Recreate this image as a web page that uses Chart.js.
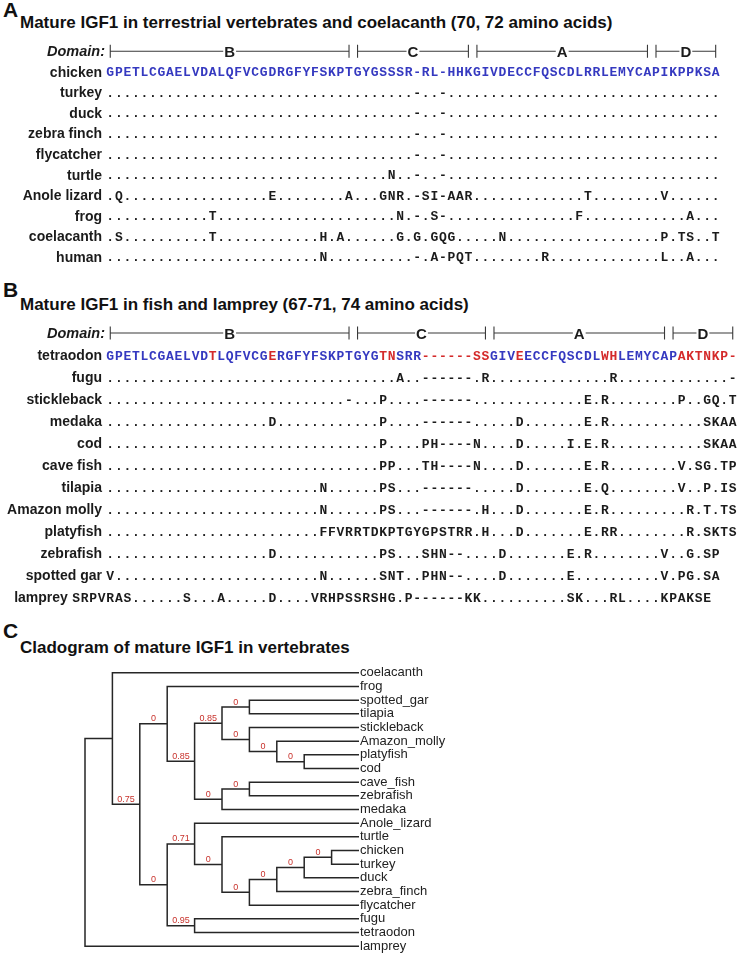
<!DOCTYPE html>
<html>
<head>
<meta charset="utf-8">
<title>Mature IGF1 alignments and cladogram</title>
<script src="https://cdn.jsdelivr.net/npm/chart.js@4.4.1/dist/chart.umd.min.js"></script>
<style>
  html, body { margin: 0; padding: 0; background: #fff; }
  #page { position: relative; width: 742px; height: 954px; overflow: hidden; color: #111;
          font-family: "Liberation Sans", Arial, sans-serif; }
  .tag { position: absolute; left: 3px; font-weight: bold; font-size: 21px; line-height: 21px; }
  .title { position: absolute; left: 20px; font-weight: bold; font-size: 17px; line-height: 17px; white-space: nowrap; }
  .panel { position: absolute; left: 0; width: 742px; }
</style>
</head>
<body>
<div id="page">
  <div class="tag" style="top:-1px">A</div>
  <div class="title" style="top:14px">Mature IGF1 in terrestrial vertebrates and coelacanth (70, 72 amino acids)</div>
  <div class="panel" style="top:41px;height:226px"><canvas id="terrestrial"></canvas></div>

  <div class="tag" style="top:279px">B</div>
  <div class="title" style="top:296px">Mature IGF1 in fish and lamprey (67-71, 74 amino acids)</div>
  <div class="panel" style="top:322px;height:286px"><canvas id="fish"></canvas></div>

  <div class="tag" style="top:620px">C</div>
  <div class="title" style="top:639px">Cladogram of mature IGF1 in vertebrates</div>
  <div class="panel" style="top:666px;height:287px"><canvas id="cladogram"></canvas></div>
</div>
<script>
// alignment rows are written in blocks of 10 columns, spaces are dropped when drawn
// first row of each panel is the reference sequence, '.' = same residue, '-' = gap

// A: terrestrial vertebrates + coelacanth
const terrestrialSpecies = ['chicken', 'turkey', 'duck', 'zebra finch', 'flycatcher', 'turtle',
                            'Anole lizard', 'frog', 'coelacanth', 'human'];
const terrestrialSeqs = [
  'GPETLCGAEL VDALQFVCGD RGFYFSKPTG YGSSSR-RL- HHKGIVDECC FQSCDLRRLE MYCAPIKPPK SA',
  '.......... .......... .......... ......-..- .......... .......... .......... ..',
  '.......... .......... .......... ......-..- .......... .......... .......... ..',
  '.......... .......... .......... ......-..- .......... .......... .......... ..',
  '.......... .......... .......... ......-..- .......... .......... .......... ..',
  '.......... .......... .......... ...N..-..- .......... .......... .......... ..',
  '.Q........ .........E ........A. ..GNR.-SI- AAR....... ......T... .....V.... ..',
  '.......... ..T....... .......... ....N.-.S- .......... .....F.... ........A. ..',
  '.S........ ..T....... .....H.A.. ....G.G.GQ G.....N... .......... .....P.TS. .T',
  '.......... .......... .....N.... ......-.A- PQT....... .R........ .....L..A. ..'
];
const terrestrialDomainStart = [1, 30, 44, 65];
const terrestrialDomainEnd = [29, 43, 64, 72];

// B: fish and lamprey (tetraodon = reference)
const fishSpecies = ['tetraodon', 'fugu', 'stickleback', 'medaka', 'cod', 'cave fish', 'tilapia',
                     'Amazon molly', 'platyfish', 'zebrafish', 'spotted gar', 'lamprey'];
const fishSeqs = [
  'GPETLCGAEL VDTLQFVCGE RGFYFSKPTG YGTNSRR--- ---SSGIVEE CCFQSCDLWH LEMYCAPAKT NKP-',
  '.......... .......... .......... ....A..--- ---.R..... .........R .......... ...-',
  '.......... .......... ........-. ..P....--- ---....... ......E.R. .......P.. GQ.T',
  '.......... .........D .......... ..P....--- ---.....D. ......E.R. .......... SKAA',
  '.......... .......... .......... ..P....PH- ---N....D. ....I.E.R. .......... SKAA',
  '.......... .......... .......... ..PP...TH- ---N....D. ......E.R. .......V.S G.TP',
  '.......... .......... .....N.... ..PS...--- ---.....D. ......E.Q. .......V.. P.IS',
  '.......... .......... .....N.... ..PS...--- ---.H...D. ......E.R. ........R. T.TS',
  '.......... .......... .....FFVRR TDKPTGYGPS TRR.H...D. ......E.RR ........R. SKTS',
  '.......... .........D .......... ..PS...SHN --....D... ....E.R... .....V..G. SP',
  'V......... .......... .....N.... ..SNT..PHN --....D... ....E..... .....V.PG. SA',
  'SRPVRAS... ...S...A.. ...D....VR HPSSRSHG.P ------KK.. ........SK ...RL....K PAKSE'
];
// lamprey has an N-terminal overhang left of column 1
const fishFirstCol = [1, 1, 1, 1, 1, 1, 1, 1, 1, 1, 1, -3];
const fishDomainStart = [1, 30, 46, 67];
const fishDomainEnd = [29, 45, 66, 74];
const tetraodonRedCols = [13, 20, 33, 34, 38, 39, 40, 41, 42, 43, 44, 45, 49, 59, 60,
                          68, 69, 70, 71, 72, 73, 74];

const domainNames = ['B', 'C', 'A', 'D'];

// C: cladogram, clade = [support, child, child]
const leafNames = ['coelacanth', 'frog', 'spotted_gar', 'tilapia', 'stickleback', 'Amazon_molly',
                   'platyfish', 'cod', 'cave_fish', 'zebrafish', 'medaka', 'Anole_lizard', 'turtle',
                   'chicken', 'turkey', 'duck', 'zebra_finch', 'flycatcher', 'fugu', 'tetraodon', 'lamprey'];
const cladogram = [null,
  [null, 'coelacanth',
    [0.75,
      [0, 'frog',
        [0.85,
          [0.85,
            [0, 'spotted_gar', 'tilapia'],
            [0, 'stickleback', [0, 'Amazon_molly', [0, 'platyfish', 'cod']]]],
          [0, [0, 'cave_fish', 'zebrafish'], 'medaka']]],
      [0,
        [0.71, 'Anole_lizard',
          [0, 'turtle', [0, [0, [0, [0, 'chicken', 'turkey'], 'duck'], 'zebra_finch'], 'flycatcher']]],
        [0.95, 'fugu', 'tetraodon']]]],
  'lamprey'];

const BLUE = '#3539c0';
const RED = '#d42a2a';
const INK = '#1b1b1b';

function residuePlugin(domStart, domEnd) {
  return {
    id: 'residues',
    afterDatasetsDraw(chart) {
      const { ctx, scales: { x, y } } = chart;
      const pitch = x.getPixelForValue(1) - x.getPixelForValue(0);
      ctx.save();

      // domain bar
      const yd = y.getPixelForValue(0);
      ctx.fillStyle = INK;
      ctx.textAlign = 'right';
      ctx.font = 'italic bold 14.5px "Liberation Sans"';
      ctx.fillText('Domain:', x.getPixelForValue(0.5) - 1, yd + 5);
      ctx.font = 'bold 15px "Liberation Sans"';
      ctx.textAlign = 'center';
      ctx.strokeStyle = '#3a3a3a';
      ctx.lineWidth = 1.1;
      domainNames.forEach((d, i) => {
        const x1 = x.getPixelForValue(domStart[i]);
        const x2 = x.getPixelForValue(domEnd[i]);
        const xm = (x1 + x2) / 2;
        const half = ctx.measureText(d).width / 2 + 1;
        ctx.beginPath();
        ctx.moveTo(x1, yd - 6.5); ctx.lineTo(x1, yd + 6.5);
        ctx.moveTo(x2, yd - 6.5); ctx.lineTo(x2, yd + 6.5);
        ctx.moveTo(x1, yd); ctx.lineTo(xm - half, yd);
        ctx.moveTo(xm + half, yd); ctx.lineTo(x2, yd);
        ctx.stroke();
        ctx.fillText(d, xm, yd + 5.5);
      });

      // species rows
      chart.data.datasets.forEach((ds, r) => {
        const pts = chart.getDatasetMeta(r).data;
        ctx.font = 'bold 14px "Liberation Sans"';
        ctx.textAlign = 'right';
        ctx.fillStyle = INK;
        ctx.fillText(ds.label, pts[0].x - pitch / 2 - 4, pts[0].y + 5);
        ctx.font = 'bold 13px "Liberation Mono"';
        ctx.textAlign = 'center';
        pts.forEach((p, i) => {
          ctx.fillStyle = ds.colours[i];
          ctx.fillText(ds.residues[i], p.x, p.y + 4.5);
        });
      });
      ctx.restore();
    }
  };
}

function alignmentChart(id, species, seqs, firstCols, domStart, domEnd, redCols) {
  const datasets = seqs.map((s, r) => {
    const residues = s.replace(/ /g, '');
    const first = firstCols ? firstCols[r] : 1;
    return {
      label: species[r],
      residues,
      colours: Array.from(residues, (ch, i) => r > 0 ? INK : (redCols.includes(first + i) ? RED : BLUE)),
      data: Array.from(residues, (ch, i) => ({ x: first + i, y: r + 1 })),
      pointRadius: 0,
      pointHoverRadius: 0
    };
  });
  return new Chart(document.getElementById(id), {
    type: 'scatter',
    data: { datasets },
    options: {
      responsive: true,
      maintainAspectRatio: false,
      animation: false,
      events: [],
      layout: { padding: { left: 106, right: 5, top: 0, bottom: 0 } },
      plugins: { legend: { display: false }, tooltip: { enabled: false } },
      scales: {
        x: { type: 'linear', display: false, min: 0.5, max: 74.5 },
        y: { type: 'linear', display: false, reverse: true, min: -0.5, max: seqs.length + 0.5 }
      }
    },
    plugins: [residuePlugin(domStart, domEnd)]
  });
}

alignmentChart('terrestrial', terrestrialSpecies, terrestrialSeqs, null,
               terrestrialDomainStart, terrestrialDomainEnd, []);
alignmentChart('fish', fishSpecies, fishSeqs, fishFirstCol,
               fishDomainStart, fishDomainEnd, tetraodonRedCols);

// cladogram layout: x = nesting depth, y = leaf order
function depthOf(n) {
  return typeof n === 'string' ? 0 : 1 + Math.max(depthOf(n[1]), depthOf(n[2]));
}
const tipDepth = depthOf(cladogram);
const branchPts = [];
const supportMarks = [];
function place(node, depth, parentDepth) {
  if (typeof node === 'string') return { x: tipDepth, y: leafNames.indexOf(node) };
  const a = place(node[1], depth + 1, depth);
  const b = place(node[2], depth + 1, depth);
  branchPts.push({ x: a.x, y: a.y }, { x: depth, y: a.y }, { x: depth, y: b.y }, { x: b.x, y: b.y },
                 { x: NaN, y: NaN });
  const y = (a.y + b.y) / 2;
  if (node[0] !== null) supportMarks.push({ x: (parentDepth + depth) / 2, y, text: String(node[0]) });
  return { x: depth, y };
}
place(cladogram, 0, 0);

const supportPlugin = {
  id: 'supports',
  afterDatasetsDraw(chart) {
    const { ctx, scales: { x, y } } = chart;
    ctx.save();
    ctx.font = '9px "Liberation Sans"';
    ctx.fillStyle = '#c8322c';
    ctx.textAlign = 'center';
    supportMarks.forEach(s => {
      ctx.fillText(s.text, x.getPixelForValue(s.x), y.getPixelForValue(s.y) - 2.5);
    });
    ctx.restore();
  }
};

new Chart(document.getElementById('cladogram'), {
  type: 'scatter',
  data: {
    datasets: [{
      data: branchPts,
      showLine: true,
      spanGaps: false,
      borderColor: '#262626',
      borderWidth: 1.5,
      borderJoinStyle: 'miter',
      pointRadius: 0,
      pointHoverRadius: 0,
      clip: false
    }]
  },
  options: {
    responsive: true,
    maintainAspectRatio: false,
    animation: false,
    events: [],
    layout: { padding: { left: 85, right: 0, top: 0, bottom: 0 } },
    plugins: { legend: { display: false }, tooltip: { enabled: false } },
    scales: {
      x: { type: 'linear', display: false, min: 0, max: tipDepth },
      y: {
        type: 'linear',
        position: 'right',
        reverse: true,
        min: -0.5,
        max: leafNames.length - 0.5,
        grid: { display: false, drawTicks: false },
        border: { display: false },
        afterBuildTicks: s => { s.ticks = leafNames.map((_, i) => ({ value: i })); },
        afterFit: s => { s.width = 383; s.paddingTop = 0; s.paddingBottom = 0; },
        ticks: {
          autoSkip: false,
          padding: 1,
          color: '#222',
          font: { family: '"Liberation Sans"', size: 13 },
          callback: v => leafNames[v]
        }
      }
    }
  },
  plugins: [supportPlugin]
});
</script>
</body>
</html>
